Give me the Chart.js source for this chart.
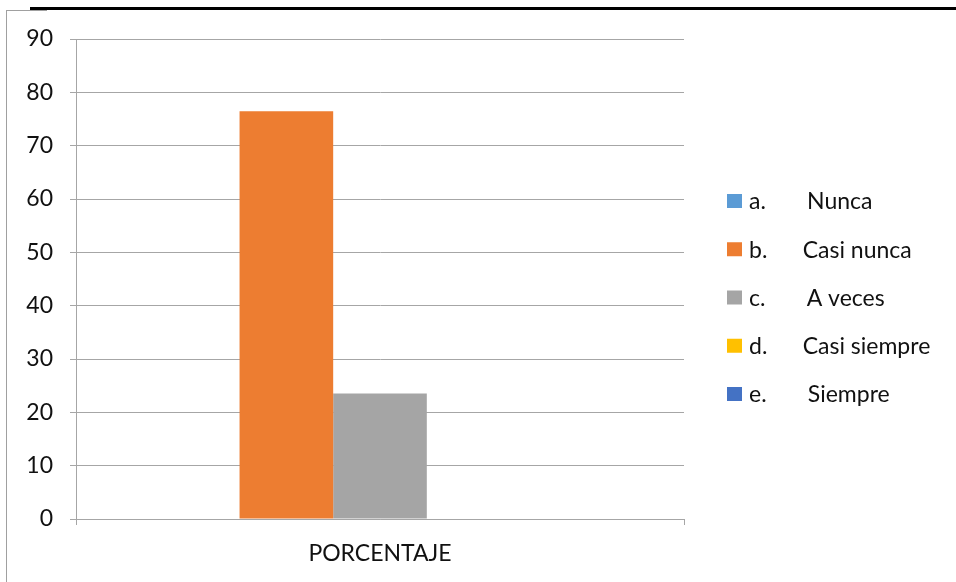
<!DOCTYPE html>
<html>
<head>
<meta charset="utf-8">
<script src="https://cdn.jsdelivr.net/npm/chart.js@4.4.1/dist/chart.umd.min.js"></script>
<style>
  html, body { margin: 0; padding: 0; background: #fff; }
  #wrap { position: relative; width: 956px; height: 582px; overflow: hidden; }
  #wrap canvas { position: absolute; left: 0; top: 0; }
  .frame { position: absolute; left: 6px; top: 10px; width: 40px; height: 600px;
           border-left: 1px solid #a0a0a0; border-top: 1px solid #a0a0a0; }
  .rule { position: absolute; left: 30px; top: 7px; right: 0; height: 3px; background: #000; }
</style>
</head>
<body>
<div id="wrap">
  <div class="frame"></div>
  <div class="rule"></div>
  <canvas id="chart" width="956" height="582"></canvas>
</div>
<script>
const categories = ['PORCENTAJE'];
const seriesNames = [
  'a.       Nunca',
  'b.      Casi nunca',
  'c.       A veces',
  'd.      Casi siempre',
  'e.       Siempre'
];
const seriesValues = [0, 76.47, 23.53, 0, 0];
const seriesColors = ['#5B9BD5', '#ED7D31', '#A5A5A5', '#FFC000', '#4472C4'];
const yMax = 90;
const yStep = 10;

const FONT = { family: 'Lato', size: 23 };
const TEXT = '#111';
const GRID = '#a6a6a6';

// legend drawn beside the plot, like the Office one
const sideLegend = {
  id: 'sideLegend',
  afterDraw(chart) {
    const { ctx, chartArea } = chart;
    const x0 = chartArea.right + 43;
    const y0 = chartArea.top + 162;
    const gap = 48.25;
    ctx.save();
    ctx.font = FONT.size + 'px ' + FONT.family;
    ctx.textBaseline = 'middle';
    chart.data.datasets.forEach((ds, i) => {
      const y = y0 + i * gap;
      ctx.fillStyle = ds.backgroundColor;
      ctx.fillRect(x0, y - 7, 15, 14);
      ctx.fillStyle = TEXT;
      ctx.fillText(ds.label, x0 + 22, y + 1);
    });
    ctx.restore();
  }
};

new Chart(document.getElementById('chart'), {
  type: 'bar',
  data: {
    labels: categories,
    datasets: seriesNames.map((name, i) => ({
      label: name,
      data: [seriesValues[i]],
      backgroundColor: seriesColors[i],
      borderWidth: 0,
      categoryPercentage: 0.77,
      barPercentage: 1
    }))
  },
  options: {
    responsive: false,
    animation: false,
    layout: { padding: { top: 39, right: 272, bottom: 0, left: 0 } },
    plugins: {
      legend: { display: false },
      tooltip: { enabled: false }
    },
    scales: {
      x: {
        grid: { display: true, drawOnChartArea: false, color: GRID, tickLength: 6, offset: true },
        border: { color: GRID },
        ticks: { font: FONT, color: TEXT, padding: 15 },
        afterFit: s => { s.height = 63; }
      },
      y: {
        min: 0,
        max: yMax,
        ticks: { stepSize: yStep, font: FONT, color: TEXT, padding: 17 },
        grid: { color: GRID, tickLength: 6 },
        border: { color: GRID },
        afterFit: s => { s.width = 76; }
      }
    }
  },
  plugins: [sideLegend]
});
</script>
</body>
</html>
